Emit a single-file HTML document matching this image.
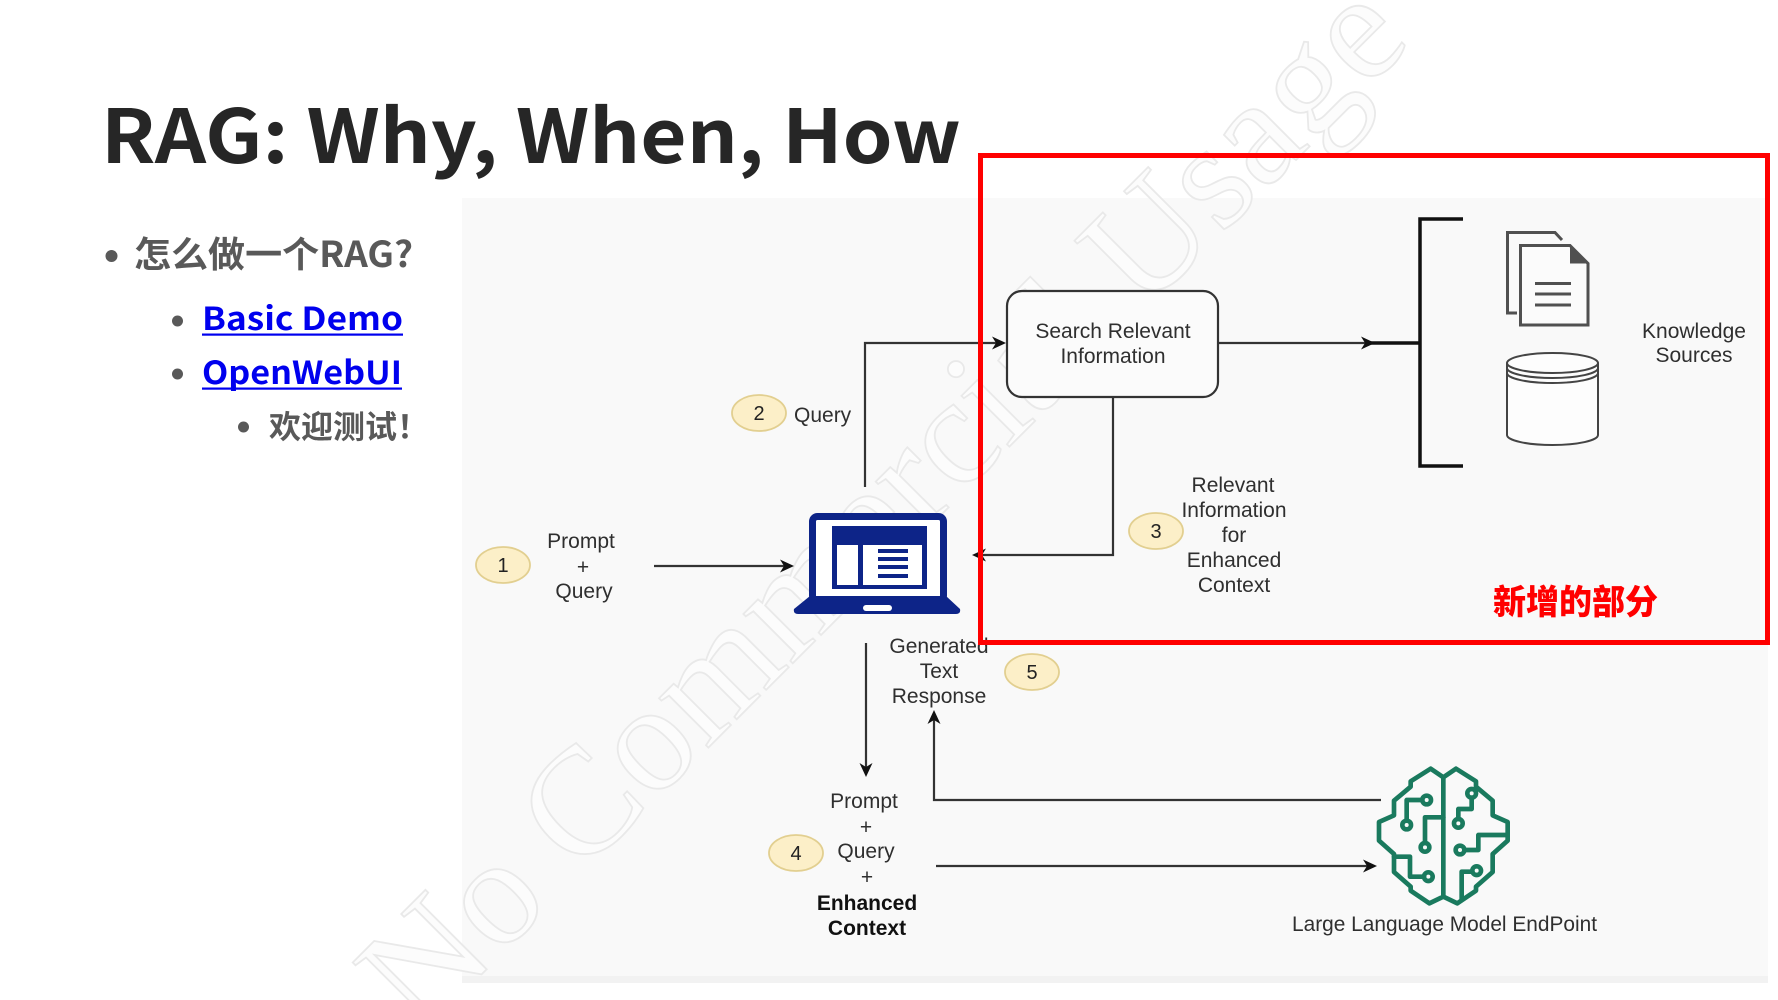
<!DOCTYPE html>
<html>
<head>
<meta charset="utf-8">
<style>
html,body{margin:0;padding:0;background:#ffffff;width:1778px;height:1000px;overflow:hidden;}
svg{display:block;overflow:hidden;}
.lbl{font-family:"Liberation Sans",Arial,sans-serif;font-size:21px;fill:#2f2f2f;}
.num{font-family:"Liberation Sans",Arial,sans-serif;font-size:20px;fill:#222;}
</style>
</head>
<body>
<svg width="1778" height="1000" viewBox="0 0 1778 1000" xmlns="http://www.w3.org/2000/svg">
  <defs>
    <clipPath id="frame"><rect x="0" y="0" width="1778" height="1000"/></clipPath>
  </defs>
  <rect x="0" y="0" width="1778" height="1000" fill="#ffffff"/>
  <rect x="462" y="198" width="1306" height="785" fill="#f9f9f9"/>
  <rect x="462" y="976" width="1306" height="7" fill="#f2f2f2"/>

  <!-- watermark -->
  <g clip-path="url(#frame)">
    <text x="420" y="1036" transform="rotate(-45 420 1036)" font-family="'Liberation Serif','DejaVu Serif',serif" font-size="152" fill="#fcfcfc" stroke="#e9e9e9" stroke-width="1.8" textLength="1405" lengthAdjust="spacingAndGlyphs">No Commercial Usage</text>
  </g>

  <!-- Title -->
  <text x="101" y="163" font-family="'Noto Sans CJK SC','Liberation Sans',sans-serif" font-weight="bold" font-size="74" fill="#262626" textLength="860" lengthAdjust="spacingAndGlyphs">RAG: Why, When, How</text>

  <!-- Bullets -->
  <circle cx="111.5" cy="256" r="6" fill="#595959"/>
  <text x="134" y="267" font-family="'Noto Sans CJK SC','Liberation Sans',sans-serif" font-weight="bold" font-size="36" fill="#595959" textLength="279" lengthAdjust="spacingAndGlyphs">怎么做一个RAG?</text>

  <circle cx="177.5" cy="321" r="5.5" fill="#595959"/>
  <text x="202" y="330" font-family="'Noto Sans CJK SC','Liberation Sans',sans-serif" font-weight="bold" font-size="32" fill="#0000ee" textLength="201" lengthAdjust="spacingAndGlyphs">Basic Demo</text>
  <rect x="202" y="333.5" width="201" height="2.2" fill="#0000ee"/>

  <circle cx="177.5" cy="374" r="5.5" fill="#595959"/>
  <text x="202" y="384" font-family="'Noto Sans CJK SC','Liberation Sans',sans-serif" font-weight="bold" font-size="32" fill="#0000ee" textLength="200" lengthAdjust="spacingAndGlyphs">OpenWebUI</text>
  <rect x="202" y="387.5" width="200" height="2.2" fill="#0000ee"/>

  <circle cx="243.5" cy="427" r="5.5" fill="#595959"/>
  <text x="269" y="438" font-family="'Noto Sans CJK SC','Liberation Sans',sans-serif" font-weight="bold" font-size="32" fill="#595959" textLength="160" lengthAdjust="spacingAndGlyphs">欢迎测试！</text>

  <!-- ===== Diagram ===== -->
  <g fill="none" stroke="#333" stroke-width="2.2">
    <line x1="654" y1="566" x2="786" y2="566"/>
    <polyline points="865,487 865,343 996,343"/>
    <line x1="1218" y1="343" x2="1366" y2="343"/>
    <polyline points="1113,397 1113,555 981,555"/>
    <line x1="866" y1="643" x2="866" y2="768"/>
    <polyline points="1381,800 934,800 934,719"/>
    <line x1="936" y1="866" x2="1368" y2="866"/>
  </g>
  <line x1="1370" y1="343" x2="1420" y2="343" stroke="#111" stroke-width="3.5"/>
  <path d="M1463 219 L1420 219 L1420 466 L1463 466" fill="none" stroke="#111" stroke-width="3.5"/>

  <g fill="#111">
    <path d="M794 566 L780 559.5 L784 566 L780 572.5 Z"/>
    <path d="M1006 343 L992 336.5 L996 343 L992 349.5 Z"/>
    <path d="M1375 343 L1361 336.5 L1365 343 L1361 349.5 Z"/>
    <path d="M972 555 L986 548.5 L982 555 L986 561.5 Z"/>
    <path d="M866 777 L859.5 763 L866 767 L872.5 763 Z"/>
    <path d="M934 710 L927.5 724 L934 720 L940.5 724 Z"/>
    <path d="M1377 866 L1363 859.5 L1367 866 L1363 872.5 Z"/>
  </g>

  <!-- Search box -->
  <rect x="1007" y="291" width="211" height="106" rx="15" ry="15" fill="#fbfbfb" stroke="#333" stroke-width="2.2"/>
  <text class="lbl" x="1113" y="338" text-anchor="middle">Search Relevant</text>
  <text class="lbl" x="1113" y="363" text-anchor="middle">Information</text>

  <!-- Document icon -->
  <g fill="none" stroke="#505050" stroke-width="3">
    <path d="M1517 313 L1507.5 313 L1507.5 232.5 L1555 232.5 L1562 240"/>
    <path d="M1520.5 245.5 L1570 245.5 L1588 263.5 L1588 325 L1520.5 325 Z" fill="#fbfbfb"/>
    <line x1="1535" y1="283.5" x2="1571" y2="283.5"/>
    <line x1="1535" y1="294" x2="1571" y2="294"/>
    <line x1="1535" y1="305" x2="1571" y2="305"/>
  </g>
  <path d="M1570 245.5 L1588 263.5 L1570 263.5 Z" fill="#505050"/>

  <!-- Database icon -->
  <g fill="#fdfdfd" stroke="#444" stroke-width="2">
    <path d="M1507 363 L1507 435 A45.5 10 0 0 0 1598 435 L1598 363"/>
    <ellipse cx="1552.5" cy="363" rx="45.5" ry="10"/>
    <path d="M1507 368 A45.5 10 0 0 0 1598 368" fill="none"/>
    <path d="M1507 373 A45.5 10 0 0 0 1598 373" fill="none"/>
  </g>

  <text class="lbl" x="1694" y="338" text-anchor="middle">Knowledge</text>
  <text class="lbl" x="1694" y="362" text-anchor="middle">Sources</text>

  <!-- number circles -->
  <g fill="#fcefc8" stroke="#e2cf90" stroke-width="1.8">
    <ellipse cx="503" cy="565" rx="27" ry="18"/>
    <ellipse cx="759" cy="413" rx="27" ry="18"/>
    <ellipse cx="1156" cy="531" rx="27" ry="18"/>
    <ellipse cx="796" cy="853" rx="27" ry="18"/>
    <ellipse cx="1032" cy="672" rx="27" ry="18"/>
  </g>
  <text class="num" x="503" y="572" text-anchor="middle">1</text>
  <text class="num" x="759" y="420" text-anchor="middle">2</text>
  <text class="num" x="1156" y="538" text-anchor="middle">3</text>
  <text class="num" x="796" y="860" text-anchor="middle">4</text>
  <text class="num" x="1032" y="679" text-anchor="middle">5</text>

  <text class="lbl" x="794" y="422">Query</text>

  <text class="lbl" x="581" y="548" text-anchor="middle">Prompt</text>
  <text class="lbl" x="583" y="574" text-anchor="middle">+</text>
  <text class="lbl" x="584" y="598" text-anchor="middle">Query</text>

  <text class="lbl" x="1233" y="492" text-anchor="middle">Relevant</text>
  <text class="lbl" x="1234" y="517" text-anchor="middle">Information</text>
  <text class="lbl" x="1234" y="542" text-anchor="middle">for</text>
  <text class="lbl" x="1234" y="567" text-anchor="middle">Enhanced</text>
  <text class="lbl" x="1234" y="592" text-anchor="middle">Context</text>

  <text class="lbl" x="939" y="653" text-anchor="middle">Generated</text>
  <text class="lbl" x="939" y="678" text-anchor="middle">Text</text>
  <text class="lbl" x="939" y="703" text-anchor="middle">Response</text>

  <text class="lbl" x="864" y="808" text-anchor="middle">Prompt</text>
  <text class="lbl" x="866" y="834" text-anchor="middle">+</text>
  <text class="lbl" x="866" y="858" text-anchor="middle">Query</text>
  <text class="lbl" x="867" y="884" text-anchor="middle">+</text>
  <text class="lbl" x="867" y="910" text-anchor="middle" font-weight="bold" style="fill:#111">Enhanced</text>
  <text class="lbl" x="867" y="935" text-anchor="middle" font-weight="bold" style="fill:#111">Context</text>

  <text class="lbl" x="1444.5" y="931" text-anchor="middle" textLength="305" lengthAdjust="spacingAndGlyphs">Large Language Model EndPoint</text>

  <!-- Laptop icon -->
  <g>
    <rect x="812.5" y="516.5" width="131" height="84" rx="5" ry="5" fill="#ffffff" stroke="#0d2488" stroke-width="7"/>
    <path d="M810 596 L946 596 L960 609 Q961 614 956 614 L798 614 Q793 614 794 609 Z" fill="#0d2488"/>
    <rect x="863" y="605" width="29" height="6" rx="3" fill="#ffffff"/>
    <rect x="832" y="526" width="95" height="63" fill="#0d2488"/>
    <rect x="837" y="545" width="21" height="40" fill="#ffffff"/>
    <rect x="863" y="545" width="59" height="40" fill="#ffffff"/>
    <rect x="878" y="549" width="30" height="4" fill="#0d2488"/>
    <rect x="878" y="557" width="30" height="4" fill="#0d2488"/>
    <rect x="878" y="565" width="30" height="4" fill="#0d2488"/>
    <rect x="878" y="574" width="30" height="4" fill="#0d2488"/>
  </g>

  <!-- Brain icon -->
  <svg x="1360" y="740" width="180" height="190" viewBox="0 0 540 570">
    <g fill="none" stroke="#1a7a5e" stroke-width="14" stroke-linejoin="round" stroke-linecap="round">
      <path d="M250 112 L212 86 L152 124 L152 140 L102 182 L102 226 L57 246 L57 302 L102 342 L102 396 L152 440 L152 452 L208 490 L250 470 Z"/>
      <path d="M250 112 L288 86 L348 124 L348 140 L398 182 L398 226 L443 246 L443 302 L398 342 L398 396 L348 440 L348 452 L292 490 L250 470"/>
      <circle cx="200" cy="180" r="13"/>
      <path d="M187 180 L140 180 L140 242"/>
      <circle cx="140" cy="255" r="13"/>
      <circle cx="195" cy="322" r="13"/>
      <path d="M195 309 L195 232 L250 232"/>
      <circle cx="205" cy="410" r="13"/>
      <path d="M192 410 L150 410 L150 350 L102 350"/>
      <circle cx="335" cy="160" r="13"/>
      <path d="M335 173 L335 207 L295 207 L295 237"/>
      <circle cx="295" cy="250" r="13"/>
      <circle cx="300" cy="330" r="13"/>
      <path d="M313 330 L355 330 L355 285 L443 285"/>
      <circle cx="350" cy="392" r="13"/>
      <path d="M337 395 L305 395 L305 480"/>
    </g>
  </svg>

  <!-- red highlight box -->
  <rect x="980.5" y="155.5" width="787" height="487" fill="none" stroke="#ff0000" stroke-width="5"/>
  <text x="1493" y="614" font-family="'Noto Sans CJK SC','Liberation Sans',sans-serif" font-weight="900" font-size="34" fill="#ff0000" textLength="165" lengthAdjust="spacingAndGlyphs">新增的部分</text>
</svg>
</body>
</html>
